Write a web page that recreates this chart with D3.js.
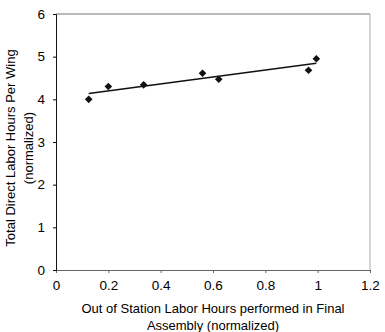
<!DOCTYPE html>
<html>
<head>
<meta charset="utf-8">
<script src="https://cdn.jsdelivr.net/npm/d3@7"></script>
<style>
  body { margin: 0; background: #fff; }
  svg { display: block; font-family: "Liberation Sans", Arial, sans-serif; }
</style>
</head>
<body>
<div id="chart"></div>
<script>
// data
const xValues = [0.125, 0.2, 0.335, 0.56, 0.622, 0.965, 0.995];
const yValues = [4.0, 4.3, 4.34, 4.61, 4.47, 4.68, 4.95];
const xTicks = [0, 0.2, 0.4, 0.6, 0.8, 1, 1.2];
const yTicks = [0, 1, 2, 3, 4, 5, 6];
const xTitle = ["Out of Station Labor Hours performed in Final", "Assembly (normalized)"];
const yTitle = ["Total Direct Labor Hours Per Wing", "(normalized)"];

const width = 385, height = 332;
const margin = {top: 14, right: 15, bottom: 62, left: 56};
const innerW = width - margin.left - margin.right;
const innerH = height - margin.top - margin.bottom;

const points = xValues.map((x, i) => ({x: x, y: yValues[i]}));

const svg = d3.select('#chart').append('svg')
    .attr('width', width)
    .attr('height', height);

const chart = svg.append('g')
    .attr('transform', `translate(${margin.left},${margin.top})`);

const xScale = d3.scaleLinear().domain([0, 1.2]).range([0, innerW]);
const yScale = d3.scaleLinear().domain([0, 6]).range([innerH, 0]);

// frame top + right (light grey)
chart.append('line')
    .attr('x1', 0).attr('x2', innerW).attr('y1', 0).attr('y2', 0)
    .attr('stroke', '#777').attr('stroke-width', 1);
chart.append('line')
    .attr('x1', innerW).attr('x2', innerW).attr('y1', 0).attr('y2', innerH)
    .attr('stroke', '#aaa').attr('stroke-width', 1);

// x axis
const xAxis = d3.axisBottom(xScale)
    .tickValues(xTicks)
    .tickFormat(d3.format('~g'))
    .tickSize(3)
    .tickPadding(7);
const xAxisG = chart.append('g')
    .attr('transform', `translate(0,${innerH})`)
    .call(xAxis);
xAxisG.select('.domain').attr('stroke', '#666');
xAxisG.selectAll('.tick line').attr('stroke', '#666');
xAxisG.selectAll('text').attr('font-size', 13.5).attr('fill', '#000');

// y axis
const yAxis = d3.axisLeft(yScale)
    .tickValues(yTicks)
    .tickFormat(d3.format('d'))
    .tickSize(3)
    .tickPadding(8);
const yAxisG = chart.append('g').call(yAxis);
yAxisG.select('.domain').attr('stroke', '#111');
yAxisG.selectAll('text').attr('font-size', 13.5).attr('fill', '#000');

// linear trend line (least squares)
const mx = d3.mean(points, d => d.x), my = d3.mean(points, d => d.y);
const slope = d3.sum(points, d => (d.x - mx) * (d.y - my)) / d3.sum(points, d => (d.x - mx) ** 2);
const xr = d3.extent(points, d => d.x);
chart.append('line')
    .attr('x1', xScale(xr[0])).attr('y1', yScale(my + slope * (xr[0] - mx)))
    .attr('x2', xScale(xr[1])).attr('y2', yScale(my + slope * (xr[1] - mx)))
    .attr('stroke', '#111').attr('stroke-width', 1.6);

// diamond markers
const diamond = 'M0,-3.8L3.8,0L0,3.8L-3.8,0Z';
chart.selectAll('.point')
    .data(points)
  .join('path')
    .attr('class', 'point')
    .attr('d', diamond)
    .attr('transform', d => `translate(${xScale(d.x)},${yScale(d.y)})`)
    .attr('fill', '#111');

// axis titles
svg.append('text')
    .attr('text-anchor', 'middle')
    .attr('font-size', 13)
    .selectAll('tspan')
    .data(xTitle)
  .join('tspan')
    .attr('x', margin.left + innerW / 2)
    .attr('y', (d, i) => 313 + i * 17)
    .text(d => d);

const yt = svg.append('text')
    .attr('text-anchor', 'middle')
    .attr('font-size', 13)
    .attr('transform', `translate(0,${margin.top + innerH / 2 + 6}) rotate(-90)`);
yt.selectAll('tspan')
    .data(yTitle)
  .join('tspan')
    .attr('x', 0)
    .attr('y', (d, i) => 15 + i * 18)
    .text(d => d);
</script>
</body>
</html>
